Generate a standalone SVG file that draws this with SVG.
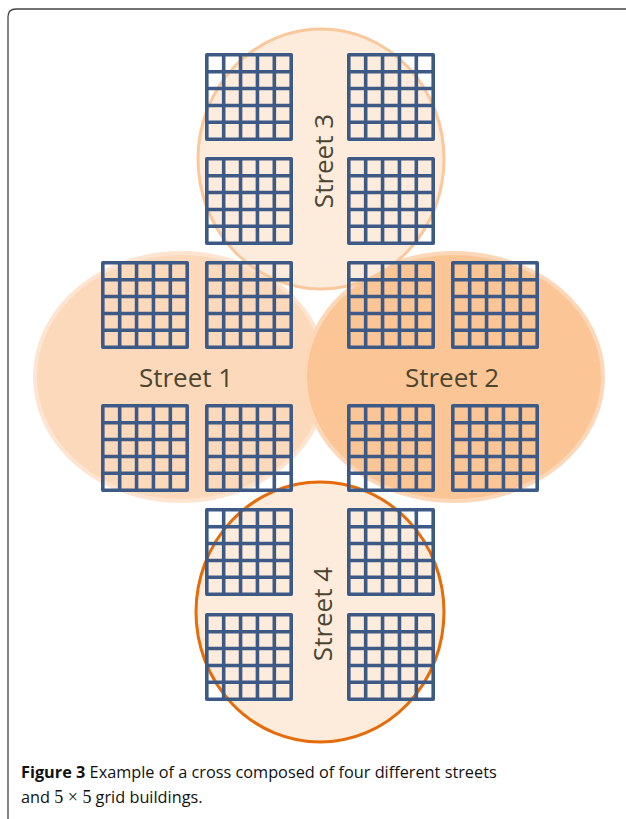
<svg xmlns="http://www.w3.org/2000/svg" xmlns:xlink="http://www.w3.org/1999/xlink" width="626" height="819" viewBox="0 0 626 819">
  <style>
    .lbl { font-family: "Open Sans", "Noto Sans", "DejaVu Sans", sans-serif; font-size: 26px; fill: #4A4530; text-anchor: middle; }
    .cap { font-family: "Open Sans", "Liberation Sans", sans-serif; font-size: 16.3px; fill: #111; }
    .bld { fill: none; stroke: #3D5A87; stroke-width: 3.6; stroke-linejoin: round; }
  </style>
  <defs>
    <symbol id="grid" viewBox="0 0 88 88" width="88" height="88" overflow="visible">
      <path class="bld" d="M1.8 1.8H86.2V86.2H1.8Z M18.68 1.8V86.2 M35.56 1.8V86.2 M52.44 1.8V86.2 M69.32 1.8V86.2 M1.8 18.68H86.2 M1.8 35.56H86.2 M1.8 52.44H86.2 M1.8 69.32H86.2"/>
    </symbol>
  </defs>
  <rect width="626" height="819" fill="#fff"/>
  <path d="M8 830V17Q8 9 16 9H640" fill="none" stroke="#444" stroke-width="1.3"/>

  <g id="street1">
    <ellipse cx="181" cy="377" rx="146" ry="124" fill="#FDD9BB" stroke="#FDE5D1" stroke-width="4"/>
    <text class="lbl" x="186" y="387">Street 1</text>
  </g>
  <g id="street2">
    <ellipse cx="454" cy="377" rx="149" ry="124" fill="#FCC596" stroke="#FDD8B8" stroke-width="4"/>
    <text class="lbl" x="452" y="387">Street 2</text>
  </g>
  <g id="street3">
    <ellipse cx="321" cy="159" rx="123" ry="130" fill="#FDEBDC" stroke="#FBC89C" stroke-width="3"/>
    <text class="lbl" transform="translate(333 161) rotate(-90)">Street 3</text>
  </g>
  <g id="street4">
    <ellipse cx="320" cy="612" rx="124" ry="130" fill="#FDEBDC" stroke="#E46C0A" stroke-width="3"/>
    <text class="lbl" transform="translate(332 614) rotate(-90)">Street 4</text>
  </g>

  <g id="buildings">
    <g id="b3a"><use xlink:href="#grid" x="205" y="53"/></g>
    <g id="b3b"><use xlink:href="#grid" x="347" y="53"/></g>
    <g id="b3c"><use xlink:href="#grid" x="205" y="157"/></g>
    <g id="b3d"><use xlink:href="#grid" x="347" y="157"/></g>
    <g id="b1a"><use xlink:href="#grid" x="101" y="261"/></g>
    <g id="b1b"><use xlink:href="#grid" x="205" y="261"/></g>
    <g id="b1c"><use xlink:href="#grid" x="101" y="404"/></g>
    <g id="b1d"><use xlink:href="#grid" x="205" y="404"/></g>
    <g id="b2a"><use xlink:href="#grid" x="347" y="261"/></g>
    <g id="b2b"><use xlink:href="#grid" x="451" y="261"/></g>
    <g id="b2c"><use xlink:href="#grid" x="347" y="404"/></g>
    <g id="b2d"><use xlink:href="#grid" x="451" y="404"/></g>
    <g id="b4a"><use xlink:href="#grid" x="205" y="508"/></g>
    <g id="b4b"><use xlink:href="#grid" x="347" y="508"/></g>
    <g id="b4c"><use xlink:href="#grid" x="205" y="613"/></g>
    <g id="b4d"><use xlink:href="#grid" x="347" y="613"/></g>
  </g>

  <g id="connectors"/>

  <g id="caption">
    <text class="cap" x="21" y="778"><tspan font-weight="bold">Figure 3</tspan> Example of a cross composed of four different streets</text>
    <text class="cap" x="21" y="803">and <tspan font-family="'Liberation Serif', serif" font-size="18">5 × 5</tspan> grid buildings.</text>
  </g>
</svg>
